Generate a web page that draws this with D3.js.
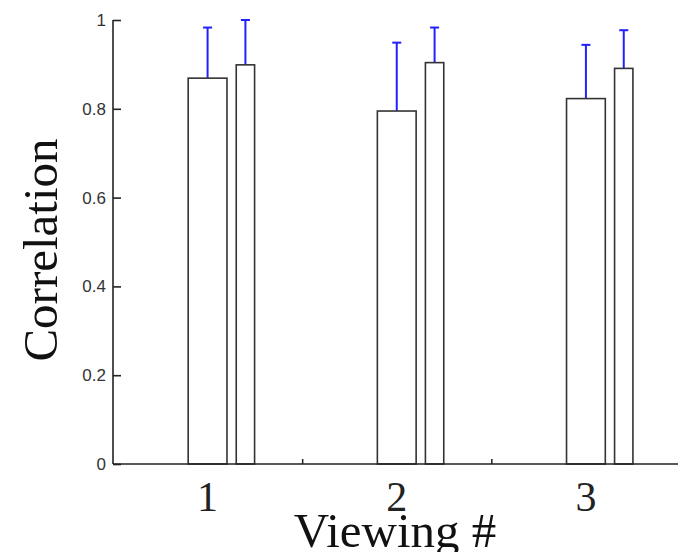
<!DOCTYPE html>
<html>
<head>
<meta charset="utf-8">
<script type="text/javascript" src="https://cdn.jsdelivr.net/npm/d3@7"></script>
<style>
	body { margin: 0; background: #fff; }
	svg { display: block; }
</style>
</head>
<body>
<div id="chart"></div>
<script type="text/javascript">
var categories = [1, 2, 3],
	tickLabels = ["1", "2", "3"],
	firstMeans = [0.869, 0.795, 0.823],
	firstErr = [0.114, 0.154, 0.121],
	secondMeans = [0.899, 0.904, 0.891],
	secondErr = [0.101, 0.079, 0.086],
	yTicks = [0, 0.2, 0.4, 0.6, 0.8, 1];

var w = 678,
	h = 552,
	plotLeft = 113,
	plotTop = 20,
	plotBottom = 464;

var svg = d3.select("#chart")
	.append("svg")
	.attr("width", w)
	.attr("height", h);

var x = d3.scaleLinear().domain([0.5, 3.5]).range([plotLeft, 680.5]);
var y = d3.scaleLinear().domain([0, 1]).range([plotBottom, plotTop]);

// small ticks between the groups (x axis)
svg.append("g")
	.attr("transform", "translate(0," + plotBottom + ")")
	.call(d3.axisTop(x).tickValues([1.5, 2.5]).tickSize(5).tickFormat(""))
	.call(function(g) {
		g.select(".domain").remove();
		g.selectAll("line").attr("stroke", "#222").attr("stroke-width", 1.5);
	});

// bars
var bars = [];
categories.forEach(function(c, i) {
	bars.push({c: c, off: 0, half: 0.1025, v: firstMeans[i], e: firstErr[i]});
	bars.push({c: c, off: 0.2, half: 0.0485, v: secondMeans[i], e: secondErr[i]});
});

svg.selectAll("line.err")
	.data(bars)
	.enter().append("line")
	.attr("class", "err")
	.attr("x1", function(d) { return x(d.c + d.off); })
	.attr("x2", function(d) { return x(d.c + d.off); })
	.attr("y1", function(d) { return y(d.v); })
	.attr("y2", function(d) { return y(d.v + d.e); })
	.style("stroke", "#2020ff")
	.style("stroke-width", 2);

svg.selectAll("line.cap")
	.data(bars)
	.enter().append("line")
	.attr("class", "cap")
	.attr("x1", function(d) { return x(d.c + d.off) - 4.5; })
	.attr("x2", function(d) { return x(d.c + d.off) + 4.5; })
	.attr("y1", function(d) { return y(d.v + d.e); })
	.attr("y2", function(d) { return y(d.v + d.e); })
	.style("stroke", "#2020ff")
	.style("stroke-width", 2);

svg.selectAll("rect.bar")
	.data(bars)
	.enter().append("rect")
	.attr("class", "bar")
	.attr("x", function(d) { return x(d.c + d.off - d.half); })
	.attr("width", function(d) { return x(d.c + d.off + d.half) - x(d.c + d.off - d.half); })
	.attr("y", function(d) { return y(d.v); })
	.attr("height", function(d) { return plotBottom - y(d.v); })
	.style("fill", "white")
	.style("stroke", "#333")
	.style("stroke-width", 1.6);

// x axis line and labels
svg.append("line")
	.attr("x1", plotLeft).attr("x2", w)
	.attr("y1", plotBottom).attr("y2", plotBottom)
	.style("stroke", "#222")
	.style("stroke-width", 1.6);

svg.selectAll("text.xl")
	.data(categories)
	.enter().append("text")
	.attr("class", "xl")
	.attr("x", function(d) { return x(d); })
	.attr("y", 511)
	.attr("text-anchor", "middle")
	.style("font-family", "'Liberation Serif', 'DejaVu Serif', serif")
	.style("font-size", "42px")
	.style("fill", "#222")
	.text(function(d, i) { return tickLabels[i]; });

// y axis
svg.append("g")
	.attr("transform", "translate(" + plotLeft + ",0)")
	.call(d3.axisRight(y).tickValues(yTicks).tickSize(8).tickFormat(""))
	.call(function(g) {
		g.select(".domain").attr("d", "M0," + plotTop + "V" + plotBottom).attr("stroke", "#222").attr("stroke-width", 1.6);
		g.selectAll("line").attr("stroke", "#222").attr("stroke-width", 1.6);
	});

svg.selectAll("text.yl")
	.data(yTicks)
	.enter().append("text")
	.attr("class", "yl")
	.attr("x", 106)
	.attr("y", function(d) { return y(d); })
	.attr("dy", "0.35em")
	.attr("text-anchor", "end")
	.style("font-family", "'Liberation Sans', Arial, sans-serif")
	.style("font-size", "17px")
	.style("fill", "#333")
	.text(function(d) { return d3.format("~g")(d); });

// axis titles
svg.append("text")
	.attr("transform", "translate(57,250) rotate(-90)")
	.attr("text-anchor", "middle")
	.style("font-family", "'Liberation Serif', 'DejaVu Serif', serif")
	.style("font-size", "49px")
	.style("fill", "#111")
	.text("Correlation");

svg.append("text")
	.attr("x", 395)
	.attr("y", 547)
	.attr("text-anchor", "middle")
	.style("font-family", "'Liberation Serif', 'DejaVu Serif', serif")
	.style("font-size", "49px")
	.style("fill", "#111")
	.text("Viewing #");
</script>
</body>
</html>
